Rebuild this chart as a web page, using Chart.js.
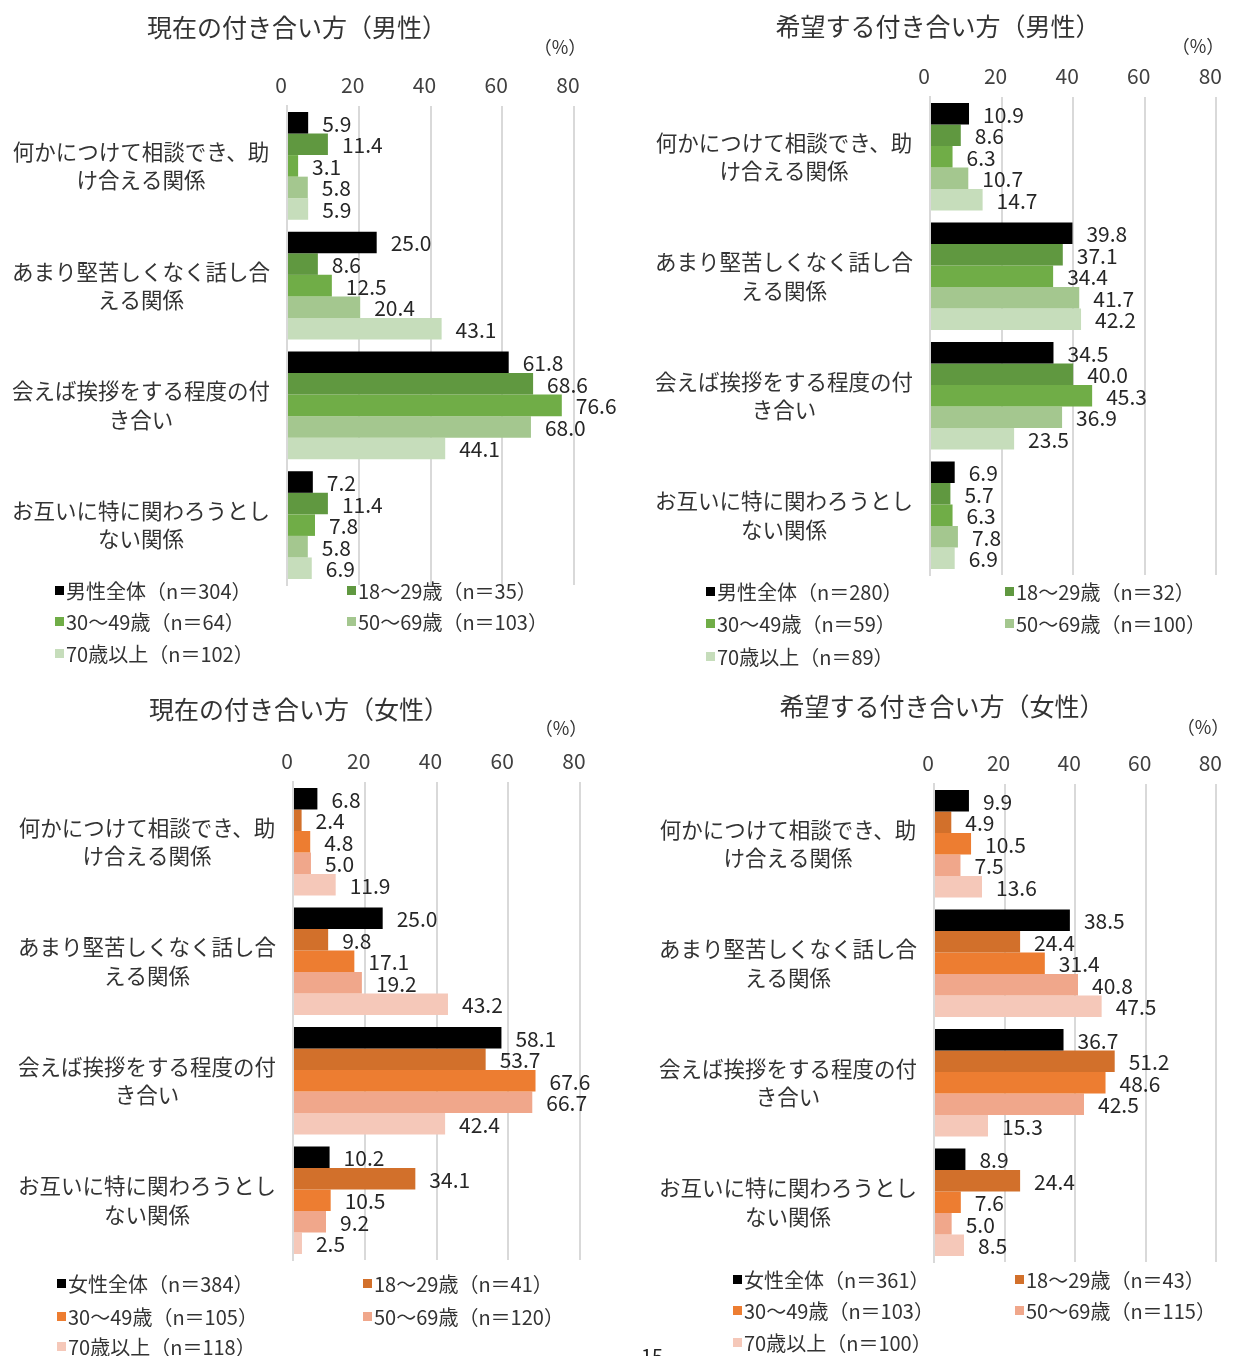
<!DOCTYPE html>
<html>
<head>
  <meta charset="utf-8">
  <script src="https://cdn.jsdelivr.net/npm/chart.js"></script>
  <title>付き合い方</title>
  <style>
    body { margin: 0; background: #fff; }
    .box { position: absolute; width: 618px; height: 678px; }
    #pageNo { position: absolute; left: 641px; top: 1341px; font: 20px "Noto Sans CJK JP"; color: #222; }
  </style>
</head>
<body>
  <div class="box" style="left:0;top:0"><canvas id="c1" width="618" height="678"></canvas></div>
  <div class="box" style="left:618px;top:0"><canvas id="c2" width="618" height="678"></canvas></div>
  <div class="box" style="left:0;top:678px"><canvas id="c3" width="618" height="678"></canvas></div>
  <div class="box" style="left:618px;top:678px"><canvas id="c4" width="618" height="678"></canvas></div>
  <div id="pageNo">15</div>

  <script>
    // categories (2 lines each)
    let categories = [
      ['何かにつけて相談でき、助', 'け合える関係'],
      ['あまり堅苦しくなく話し合', 'える関係'],
      ['会えば挨拶をする程度の付', 'き合い'],
      ['お互いに特に関わろうとし', 'ない関係']
    ];
    let xTicks = [0, 20, 40, 60, 80];

    // 現在の付き合い方（男性）
    let menNowLabels = ['男性全体（n＝304）', '18～29歳（n＝35）', '30～49歳（n＝64）', '50～69歳（n＝103）', '70歳以上（n＝102）'];
    let menNowAll = [5.9, 25.0, 61.8, 7.2];
    let menNow18 = [11.4, 8.6, 68.6, 11.4];
    let menNow30 = [3.1, 12.5, 76.6, 7.8];
    let menNow50 = [5.8, 20.4, 68.0, 5.8];
    let menNow70 = [5.9, 43.1, 44.1, 6.9];

    // 希望する付き合い方（男性）
    let menWishLabels = ['男性全体（n＝280）', '18～29歳（n＝32）', '30～49歳（n＝59）', '50～69歳（n＝100）', '70歳以上（n＝89）'];
    let menWishAll = [10.9, 39.8, 34.5, 6.9];
    let menWish18 = [8.6, 37.1, 40.0, 5.7];
    let menWish30 = [6.3, 34.4, 45.3, 6.3];
    let menWish50 = [10.7, 41.7, 36.9, 7.8];
    let menWish70 = [14.7, 42.2, 23.5, 6.9];

    // 現在の付き合い方（女性）
    let womenNowLabels = ['女性全体（n＝384）', '18～29歳（n＝41）', '30～49歳（n＝105）', '50～69歳（n＝120）', '70歳以上（n＝118）'];
    let womenNowAll = [6.8, 25.0, 58.1, 10.2];
    let womenNow18 = [2.4, 9.8, 53.7, 34.1];
    let womenNow30 = [4.8, 17.1, 67.6, 10.5];
    let womenNow50 = [5.0, 19.2, 66.7, 9.2];
    let womenNow70 = [11.9, 43.2, 42.4, 2.5];

    // 希望する付き合い方（女性）
    let womenWishLabels = ['女性全体（n＝361）', '18～29歳（n＝43）', '30～49歳（n＝103）', '50～69歳（n＝115）', '70歳以上（n＝100）'];
    let womenWishAll = [9.9, 38.5, 36.7, 8.9];
    let womenWish18 = [4.9, 24.4, 51.2, 24.4];
    let womenWish30 = [10.5, 31.4, 48.6, 7.6];
    let womenWish50 = [7.5, 40.8, 42.5, 5.0];
    let womenWish70 = [13.6, 47.5, 15.3, 8.5];

    let greens = ['#000000', '#609840', '#70AD47', '#A4C78F', '#C6DDBB'];
    let oranges = ['#000000', '#D2702B', '#ED7D31', '#F0A78B', '#F5C8B9'];

    const FONT = '"Noto Sans CJK JP", "Noto Sans", sans-serif';

    // titles, (%) and 2-column legend
    const extras = {
      id: 'extras',
      afterDraw(chart) {
        let o = chart.options.plugins.extras;
        let ctx = chart.ctx;
        ctx.save();
        ctx.fillStyle = '#333';
        ctx.textBaseline = 'middle';
        ctx.textAlign = 'center';
        ctx.font = '25px ' + FONT;
        ctx.fillText(o.title, o.titleX, o.titleY);
        ctx.font = '18px ' + FONT;
        ctx.fillText('（%）', o.unitX, o.unitY);
        ctx.textAlign = 'left';
        ctx.font = '20px ' + FONT;
        chart.data.datasets.forEach((ds, i) => {
          let x = o.legendCols[i % 2];
          let y = o.legendRows[Math.floor(i / 2)];
          ctx.fillStyle = ds.backgroundColor;
          ctx.fillRect(x, y - 4, 9, 9);
          ctx.fillStyle = '#333';
          ctx.fillText(ds.label, x + 11, y + 1);
        });
        ctx.restore();
      }
    };

    // values at bar ends
    const barValues = {
      id: 'barValues',
      afterDatasetsDraw(chart) {
        let ctx = chart.ctx;
        ctx.save();
        ctx.fillStyle = '#262626';
        ctx.font = '21px ' + FONT;
        ctx.textBaseline = 'middle';
        ctx.textAlign = 'left';
        chart.data.datasets.forEach((ds, i) => {
          chart.getDatasetMeta(i).data.forEach((bar, j) => {
            ctx.fillText(ds.data[j].toFixed(1), bar.x + 14, bar.y + 1);
          });
        });
        ctx.restore();
      }
    };

    function makeChart(id, labels, series, colors, box) {
      let datasets = series.map((values, i) => ({
        label: labels[i],
        data: values,
        backgroundColor: colors[i],
        borderWidth: 0,
        categoryPercentage: 0.9,
        barPercentage: 1.0
      }));
      new Chart(document.getElementById(id), {
        type: 'bar',
        data: { labels: categories, datasets: datasets },
        options: {
          indexAxis: 'y',
          responsive: false,
          animation: false,
          layout: { padding: { top: box.top - 40, left: 0, right: 618 - box.right, bottom: 678 - box.bottom } },
          scales: {
            x: {
              position: 'top',
              min: 0,
              max: 80,
              afterBuildTicks: s => { s.ticks = xTicks.map(v => ({ value: v })); },
              afterFit: s => { s.height = 40; },
              ticks: { font: { size: 21, family: FONT }, color: '#404040', padding: 8, labelOffset: -6 },
              grid: { color: '#d9d9d9', lineWidth: 2, drawTicks: false },
              border: { display: false }
            },
            y: {
              afterFit: s => { s.width = box.left; },
              ticks: { font: { size: 21.5, family: FONT, lineHeight: 1.32 }, color: '#333', padding: 17, crossAlign: 'center' },
              grid: { display: false, drawTicks: false },
              border: { color: '#d9d9d9', width: 2 }
            }
          },
          plugins: {
            legend: { display: false },
            tooltip: { enabled: false },
            extras: box.extras
          }
        },
        plugins: [barValues, extras]
      });
    }

    makeChart('c1', menNowLabels, [menNowAll, menNow18, menNow30, menNow50, menNow70], greens,
      { left: 287, right: 574, top: 106, bottom: 585,
        extras: { title: '現在の付き合い方（男性）', titleX: 297, titleY: 27, unitX: 560, unitY: 47,
                  legendCols: [55, 347], legendRows: [590, 621, 653] } });

    makeChart('c2', menWishLabels, [menWishAll, menWish18, menWish30, menWish50, menWish70], greens,
      { left: 312, right: 600, top: 97, bottom: 575,
        extras: { title: '希望する付き合い方（男性）', titleX: 320, titleY: 26, unitX: 580, unitY: 46,
                  legendCols: [88, 387], legendRows: [591, 623, 656] } });

    makeChart('c3', womenNowLabels, [womenNowAll, womenNow18, womenNow30, womenNow50, womenNow70], oranges,
      { left: 293, right: 580, top: 104, bottom: 582,
        extras: { title: '現在の付き合い方（女性）', titleX: 299, titleY: 31, unitX: 561, unitY: 50,
                  legendCols: [57, 363], legendRows: [605, 638, 668] } });

    makeChart('c4', womenWishLabels, [womenWishAll, womenWish18, womenWish30, womenWish50, womenWish70], oranges,
      { left: 316, right: 604, top: 106, bottom: 584,
        extras: { title: '希望する付き合い方（女性）', titleX: 324, titleY: 28, unitX: 585, unitY: 49,
                  legendCols: [115, 397], legendRows: [601, 632, 664] } });
  </script>
</body>
</html>
